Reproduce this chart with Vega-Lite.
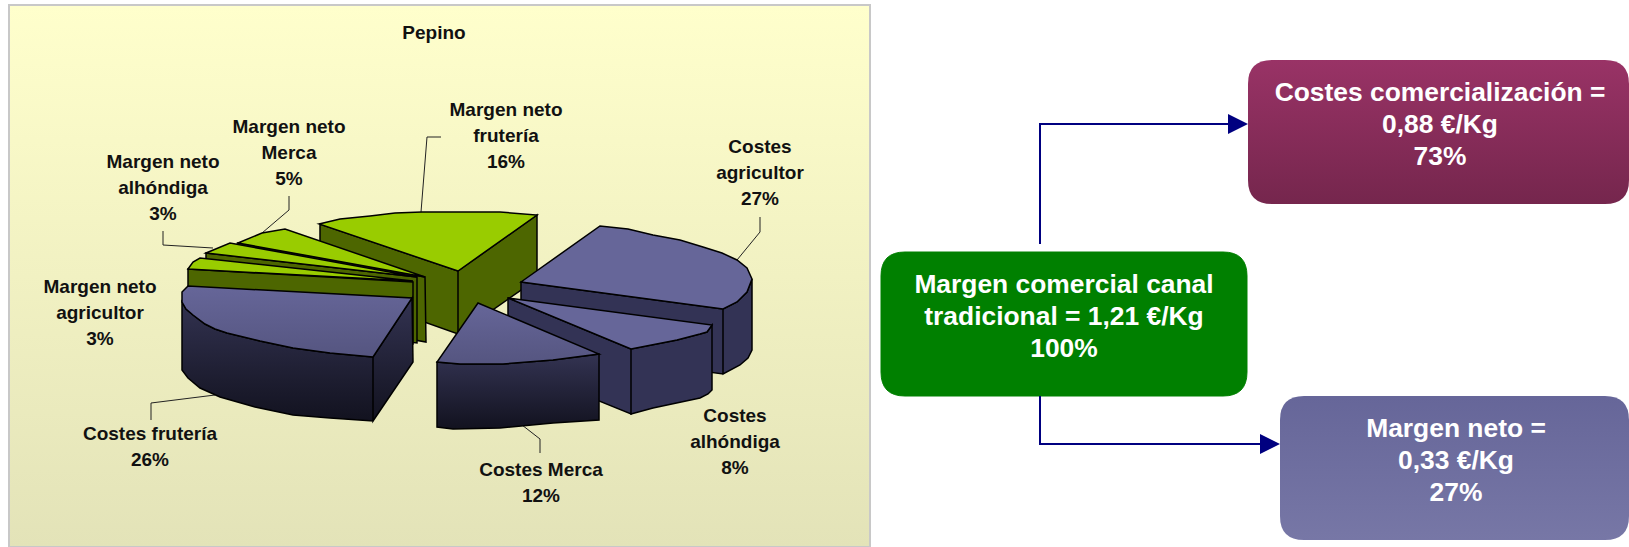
{
"$schema":"https://vega.github.io/schema/vega-lite/v6.json",
"width":1629,"height":547,"padding":0,"background":"white",
"autosize":{"type":"fit","contains":"padding"},
"config":{"view":{"stroke":null}},
"datasets":{
"porciones":[
{"n":1,"concepto":"Margen neto frutería","pct":16,"etiqueta":"Margen neto\nfrutería\n16%"},
{"n":2,"concepto":"Margen neto Merca","pct":5,"etiqueta":"Margen neto\nMerca\n5%"},
{"n":3,"concepto":"Margen neto alhóndiga","pct":3,"etiqueta":"Margen neto\nalhóndiga\n3%"},
{"n":4,"concepto":"Margen neto agricultor","pct":3,"etiqueta":"Margen neto\nagricultor\n3%"},
{"n":5,"concepto":"Costes agricultor","pct":27,"etiqueta":"Costes\nagricultor\n27%"},
{"n":6,"concepto":"Costes alhóndiga","pct":8,"etiqueta":"Costes\nalhóndiga\n8%"},
{"n":7,"concepto":"Costes Merca","pct":12,"etiqueta":"Costes Merca\n12%"},
{"n":8,"concepto":"Costes frutería","pct":26,"etiqueta":"Costes frutería\n26%"}
],
"cajas":[
{"n":1,"caja":"Margen comercial","valor":1.21,"pct":100,"texto":"Margen comercial canal\ntradicional = 1,21 €/Kg\n100%"},
{"n":2,"caja":"Costes comercialización","valor":0.88,"pct":73,"texto":"Costes comercialización =\n0,88 €/Kg\n73%"},
{"n":3,"caja":"Margen neto","valor":0.33,"pct":27,"texto":"Margen neto =\n0,33 €/Kg\n27%"}
]
},
"resolve":{"scale":{"x":"independent","y":"independent"}},
"layer":[
{
"encoding":{
"x":{"datum":0,"type":"quantitative","scale":{"domain":[0,1629],"range":[0,1629],"nice":false,"zero":false},"axis":null},
"y":{"datum":0,"type":"quantitative","scale":{"domain":[0,547],"range":[0,547],"nice":false,"zero":false},"axis":null},
"size":{"value":4}
},
"resolve":{"scale":{"shape":"independent"}},
"layer":[
{"data":{"values":[{"panel":"Pepino"}]},
"mark":{"type":"point","filled":true,"opacity":1,"shape":"M9,5 L870,5 L870,547 L9,547 Z","stroke":"#c8c8c8","strokeWidth":2,
"fill":{"x1":0,"y1":0,"x2":0,"y2":1,"gradient":"linear","stops":[{"offset":0,"color":"#ffffcc"},{"offset":1,"color":"#e3e3b8"}]}}},
{"data":{"name":"porciones"},
"transform":[{"filter":{"field":"concepto","oneOf":["Margen neto frutería","Margen neto Merca","Margen neto alhóndiga","Costes agricultor","Costes Merca","Costes frutería"]}}],
"mark":{"type":"point","filled":false,"opacity":1,"stroke":"#222222","strokeWidth":1},
"encoding":{"shape":{"field":"concepto","type":"nominal","legend":null,"scale":{"domain":["Margen neto frutería","Margen neto Merca","Margen neto alhóndiga","Costes agricultor","Costes Merca","Costes frutería"],
"range":["M441,137 L427,137 L421,212","M289,196 L289,210 L262,233","M163,231 L163,245 L213,248","M760,217 L760,232 L737,260","M522,425 L540,439 L540,453","M151,420 L151,403 L215,395"]}}}},
{"data":{"name":"porciones"},
"transform":[{"filter":{"field":"concepto","oneOf":["Margen neto frutería","Margen neto Merca","Margen neto alhóndiga","Margen neto agricultor"]}}],
"mark":{"type":"point","filled":true,"opacity":1,"fill":"#4d6600","stroke":"black","strokeWidth":1.5},
"encoding":{"shape":{"field":"concepto","type":"nominal","legend":null,"scale":{"domain":["Margen neto frutería","Margen neto Merca","Margen neto alhóndiga","Margen neto agricultor"],
"range":["M320,224 L458,271 L458,334 L320,285 Z M458,271 L537,215 L537,279 L458,334 Z","M238,243 L425,277 L426,342 L238,308 Z","M206,253 L417,277 L417,343 L206,318 Z","M188,269 L413,282 L413,344 L188,333 Z"]}}}},
{"data":{"name":"porciones"},
"transform":[{"filter":{"field":"concepto","oneOf":["Margen neto frutería","Margen neto Merca","Margen neto alhóndiga","Margen neto agricultor"]}}],
"mark":{"type":"point","filled":true,"opacity":1,"fill":"#99cc00","stroke":"black","strokeWidth":1.5},
"encoding":{"shape":{"field":"concepto","type":"nominal","legend":null,"scale":{"domain":["Margen neto frutería","Margen neto Merca","Margen neto alhóndiga","Margen neto agricultor"],
"range":["M319,224 L340,219 L370,216 L395,213 L422,212 L500,212 L537,215 L458,271 Z","M238,243 L262,233 L285,229 L425,277 Z","M206,253 L230,243 L417,277 Z","M188,269 L193,262 L200,258 L413,281 Z"]}}}},
{"data":{"name":"porciones"},
"transform":[{"filter":{"field":"concepto","oneOf":["Costes agricultor","Costes alhóndiga"]}}],
"mark":{"type":"point","filled":true,"opacity":1,"fill":"#333355","stroke":"black","strokeWidth":1.5},
"encoding":{"shape":{"field":"concepto","type":"nominal","legend":null,"scale":{"domain":["Costes agricultor","Costes alhóndiga"],
"range":["M521,282 L723,309 L723,374 L521,347 Z M723,309 L737,302 L747,292 L752,279 L752,350 L748,358 L740,365 L723,374 Z","M508,298 L631,349 L631,414 L508,364 Z M631,349 L677,340 L700,334 L707,332 L712,325 L712,390 L708,394 L700,398 L653,408 L631,414 Z"]}}}},
{"data":{"name":"porciones"},
"transform":[{"filter":{"field":"concepto","oneOf":["Costes agricultor","Costes alhóndiga"]}}],
"mark":{"type":"point","filled":true,"opacity":1,"fill":"#666699","stroke":"black","strokeWidth":1.5},
"encoding":{"shape":{"field":"concepto","type":"nominal","legend":null,"scale":{"domain":["Costes agricultor","Costes alhóndiga"],
"range":["M521,282 L600,226 L628,229 L653,235 L680,240 L703,247 L722,253 L737,260 L747,268 L752,279 L747,292 L737,302 L723,309 Z","M508,298 L712,325 L707,332 L700,334 L677,340 L631,349 Z"]}}}},
{"data":{"name":"porciones"},
"transform":[{"filter":{"field":"concepto","oneOf":["Costes Merca","Costes frutería"]}}],
"mark":{"type":"point","filled":true,"opacity":1,"stroke":"black","strokeWidth":1.5,
"fill":{"x1":0,"y1":0,"x2":0,"y2":1,"gradient":"linear","stops":[{"offset":0,"color":"#333352"},{"offset":1,"color":"#12121f"}]}},
"encoding":{"shape":{"field":"concepto","type":"nominal","legend":null,"scale":{"domain":["Costes Merca","Costes frutería"],
"range":["M437,362 L460,364 L503,364 L553,360 L599,354 L599,420 L553,423 L500,428 L453,429 L437,427 Z","M182,302 L186,309 L193,315 L205,324 L215,329 L227,333 L260,341 L293,348 L330,353 L373,357 L373,421 L330,418 L293,415 L255,407 L220,397 L200,388 L188,378 L182,370 Z M373,357 L412,298 L413,362 L373,421 Z"]}}}},
{"data":{"name":"porciones"},
"transform":[{"filter":{"field":"concepto","oneOf":["Costes Merca","Costes frutería"]}}],
"mark":{"type":"point","filled":true,"opacity":1,"stroke":"black","strokeWidth":1.5,
"fill":{"x1":0,"y1":0,"x2":0,"y2":1,"gradient":"linear","stops":[{"offset":0,"color":"#666699"},{"offset":1,"color":"#555580"}]}},
"encoding":{"shape":{"field":"concepto","type":"nominal","legend":null,"scale":{"domain":["Costes Merca","Costes frutería"],
"range":["M478,303 L599,354 L553,360 L503,364 L460,364 L437,362 Z","M182,302 L182,292 L188,286 L412,298 L373,357 L330,353 L293,348 L260,341 L227,333 L215,329 L205,324 L193,315 L186,309 Z"]}}}},
{"data":{"name":"cajas"},"transform":[{"filter":{"field":"n","equal":1}}],
"mark":{"type":"point","filled":true,"opacity":1,"fill":"#008000","stroke":"#008000","strokeWidth":1,"shape":"M905,252 L1223,252 Q1247,252 1247,276 L1247,372 Q1247,396 1223,396 L905,396 Q881,396 881,372 L881,276 Q881,252 905,252 Z"}},
{"data":{"name":"cajas"},"transform":[{"filter":{"field":"n","equal":2}}],
"mark":{"type":"point","filled":true,"opacity":1,"strokeWidth":0,"shape":"M1272,60 L1605,60 Q1629,60 1629,84 L1629,180 Q1629,204 1605,204 L1272,204 Q1248,204 1248,180 L1248,84 Q1248,60 1272,60 Z",
"fill":{"x1":0,"y1":0,"x2":0,"y2":1,"gradient":"linear","stops":[{"offset":0,"color":"#993366"},{"offset":1,"color":"#75264d"}]}}},
{"data":{"name":"cajas"},"transform":[{"filter":{"field":"n","equal":3}}],
"mark":{"type":"point","filled":true,"opacity":1,"strokeWidth":0,"shape":"M1304,396 L1605,396 Q1629,396 1629,420 L1629,516 Q1629,540 1605,540 L1304,540 Q1280,540 1280,516 L1280,420 Q1280,396 1304,396 Z",
"fill":{"x1":0,"y1":0,"x2":0,"y2":1,"gradient":"linear","stops":[{"offset":0,"color":"#666699"},{"offset":1,"color":"#7777a6"}]}}},
{"data":{"name":"cajas"},"transform":[{"filter":{"field":"n","oneOf":[2,3]}}],
"mark":{"type":"point","filled":false,"opacity":1,"stroke":"#000080","strokeWidth":2},
"encoding":{"shape":{"field":"caja","type":"nominal","legend":null,"scale":{"domain":["Costes comercialización","Margen neto"],"range":["M1040,244 L1040,124 L1230,124","M1040,396 L1040,444 L1262,444"]}}}},
{"data":{"name":"cajas"},"transform":[{"filter":{"field":"n","oneOf":[2,3]}}],
"mark":{"type":"point","filled":true,"opacity":1,"fill":"#000080","strokeWidth":0},
"encoding":{"shape":{"field":"caja","type":"nominal","legend":null,"scale":{"domain":["Costes comercialización","Margen neto"],"range":["M1228,114 L1248,124 L1228,134 Z","M1260,434 L1280,444 L1260,454 Z"]}}}}
]
},
{
"data":{"name":"porciones"},
"mark":{"type":"text","font":"Liberation Sans","fontWeight":"bold","fontSize":19,"lineBreak":"\n","lineHeight":26,"align":"center","baseline":"middle","color":"#111111"},
"encoding":{
"x":{"field":"n","type":"quantitative","axis":null,"scale":{"domain":[1,2,3,4,5,6,7,8],"range":[506,289,163,100,760,735,541,150],"nice":false,"zero":false}},
"y":{"field":"n","type":"quantitative","axis":null,"scale":{"domain":[1,2,3,4,5,6,7,8],"range":[110,127,162,287,147,416,470,434],"nice":false,"zero":false}},
"text":{"field":"etiqueta","type":"nominal"}
}
},
{
"data":{"values":[{"titulo":"Pepino"}]},
"mark":{"type":"text","font":"Liberation Sans","fontWeight":"bold","fontSize":19,"align":"center","baseline":"middle","color":"#111111"},
"encoding":{
"x":{"datum":434,"type":"quantitative","axis":null,"scale":{"domain":[0,1629],"range":[0,1629],"nice":false,"zero":false}},
"y":{"datum":33,"type":"quantitative","axis":null,"scale":{"domain":[0,547],"range":[0,547],"nice":false,"zero":false}},
"text":{"field":"titulo","type":"nominal"}
}
},
{
"data":{"name":"cajas"},
"mark":{"type":"text","font":"Liberation Sans","fontWeight":"bold","fontSize":26.4,"lineBreak":"\n","lineHeight":32,"align":"center","baseline":"middle","color":"white"},
"encoding":{
"x":{"field":"n","type":"quantitative","axis":null,"scale":{"domain":[1,2,3],"range":[1064,1440,1456],"nice":false,"zero":false}},
"y":{"field":"n","type":"quantitative","axis":null,"scale":{"domain":[1,2,3],"range":[285,93,429],"nice":false,"zero":false}},
"text":{"field":"texto","type":"nominal"}
}
}
]
}
